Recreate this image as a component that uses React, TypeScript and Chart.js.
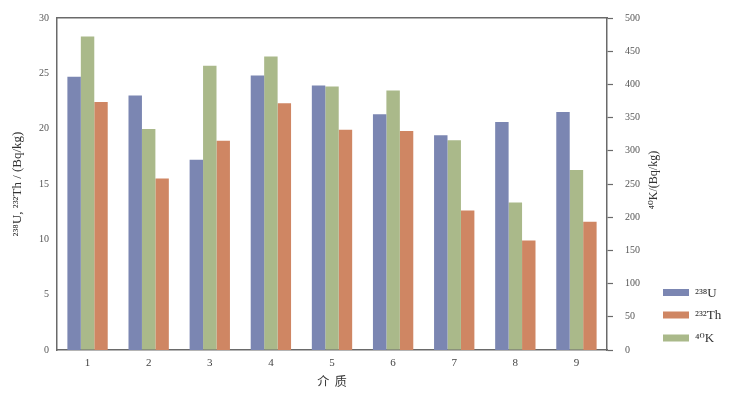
import React, { useEffect, useRef } from "react";
import { Chart, registerables } from "chart.js";

Chart.register(...registerables);

const categories = ["1", "2", "3", "4", "5", "6", "7", "8", "9"];
const u238 = [24.7, 23.0, 17.2, 24.8, 23.9, 21.3, 19.4, 20.6, 21.5];
const th232 = [22.4, 15.5, 18.9, 22.3, 19.9, 19.8, 12.6, 9.9, 11.6];
const k40 = [472, 333, 428, 442, 397, 391, 316, 222, 271];
const leftTicks = { min: 0, max: 30, step: 5 };
const rightTicks = { min: 0, max: 500, step: 50 };
const rightTitle = "⁴⁰K/(Bq/kg)";

const COLOR_U = "#7b86b2";
const COLOR_TH = "#cf8663";
const COLOR_K = "#aab98a";
const AXIS = "#6a6a6a";
const SERIF = "'Liberation Serif', 'DejaVu Serif', serif";

const legendItems = [
  { label: "²³⁸U", color: COLOR_U },
  { label: "²³²Th", color: COLOR_TH },
  { label: "⁴⁰K", color: COLOR_K },
];

const decorPlugin = {
  id: "decor",
  afterDraw(chart: any) {
    const ctx = chart.ctx;
    ctx.save();
    const x0 = 663;
    const ys = [292.5, 315, 338];
    legendItems.forEach((it, i) => {
      ctx.fillStyle = it.color;
      ctx.fillRect(x0, ys[i] - 3.5, 26, 7);
      ctx.fillStyle = "#333";
      ctx.font = "13px " + SERIF;
      ctx.textAlign = "left";
      ctx.textBaseline = "middle";
      ctx.fillText(it.label, x0 + 32, ys[i] + 1);
    });
    // right axis title, reading bottom-to-top
    const area = chart.chartArea;
    ctx.translate(654, (area.top + area.bottom) / 2 - 4);
    ctx.rotate(-Math.PI / 2);
    ctx.fillStyle = "#333";
    ctx.font = "12px " + SERIF;
    ctx.textAlign = "center";
    ctx.textBaseline = "middle";
    ctx.fillText(rightTitle, 0, 0);
    ctx.restore();
  },
};

export default function App() {
  const ref = useRef<HTMLCanvasElement>(null);
  useEffect(() => {
    if (!ref.current) return;
    const chart = new Chart(ref.current, {
      type: "bar",
      data: {
        labels: categories,
        datasets: [
          { label: "²³⁸U", data: u238, backgroundColor: COLOR_U, yAxisID: "y" },
          { label: "⁴⁰K", data: k40, backgroundColor: COLOR_K, yAxisID: "y2" },
          { label: "²³²Th", data: th232, backgroundColor: COLOR_TH, yAxisID: "y" },
        ],
      },
      options: {
        responsive: false,
        animation: false,
        layout: { padding: { top: 14, left: 0, right: 0, bottom: 0 } },
        datasets: { bar: { barPercentage: 1, categoryPercentage: 0.66 } },
        plugins: { legend: { display: false }, tooltip: { enabled: false } },
        scales: {
          x: {
            position: "bottom",
            grid: { display: false, drawTicks: false, tickLength: 0 },
            border: { display: true, color: AXIS, width: 1.5 },
            ticks: { color: "#444", font: { family: SERIF, size: 11 }, padding: 7 },
            title: {
              display: true,
              text: "介  质",
              color: "#333",
              font: { family: "'Noto Sans CJK SC', sans-serif", size: 12 },
              padding: { top: 0, bottom: 6 },
            },
            afterFit: (s: any) => {
              s.height = 45;
            },
          },
          x2: {
            position: "top",
            grid: { display: false, drawTicks: false },
            border: { display: true, color: AXIS, width: 1.5 },
            ticks: { display: false },
            afterFit: (s: any) => {
              s.height = 0;
            },
          },
          y: {
            position: "left",
            min: leftTicks.min,
            max: leftTicks.max,
            grid: { display: false, drawOnChartArea: false, tickLength: 5, tickColor: AXIS, tickWidth: 1.2 },
            border: { display: true, color: AXIS, width: 1.5 },
            ticks: { stepSize: leftTicks.step, color: "#555", font: { family: SERIF, size: 10 }, padding: 3 },
            title: {
              display: true,
              text: "²³⁸U, ²³²Th / (Bq/kg)",
              color: "#333",
              font: { family: SERIF, size: 13 },
              padding: { top: 10, bottom: 0 },
            },
            afterFit: (s: any) => {
              s.width = 57;
            },
          },
          y2: {
            position: "right",
            min: rightTicks.min,
            max: rightTicks.max,
            grid: { display: true, drawOnChartArea: false, tickLength: 6, tickColor: AXIS, tickWidth: 1.2 },
            border: { display: true, color: AXIS, width: 1.5 },
            ticks: { stepSize: rightTicks.step, color: "#555", font: { family: SERIF, size: 10 }, padding: 12 },
            title: { display: false },
            afterFit: (s: any) => {
              s.width = 123;
            },
          },
        },
      } as any,
      plugins: [decorPlugin],
    });
    return () => chart.destroy();
  }, []);
  return (
    <div style={{ position: "absolute", left: 0, top: 0, width: 730, height: 395, background: "#fff" }}>
      <canvas ref={ref} width={730} height={395} />
    </div>
  );
}
